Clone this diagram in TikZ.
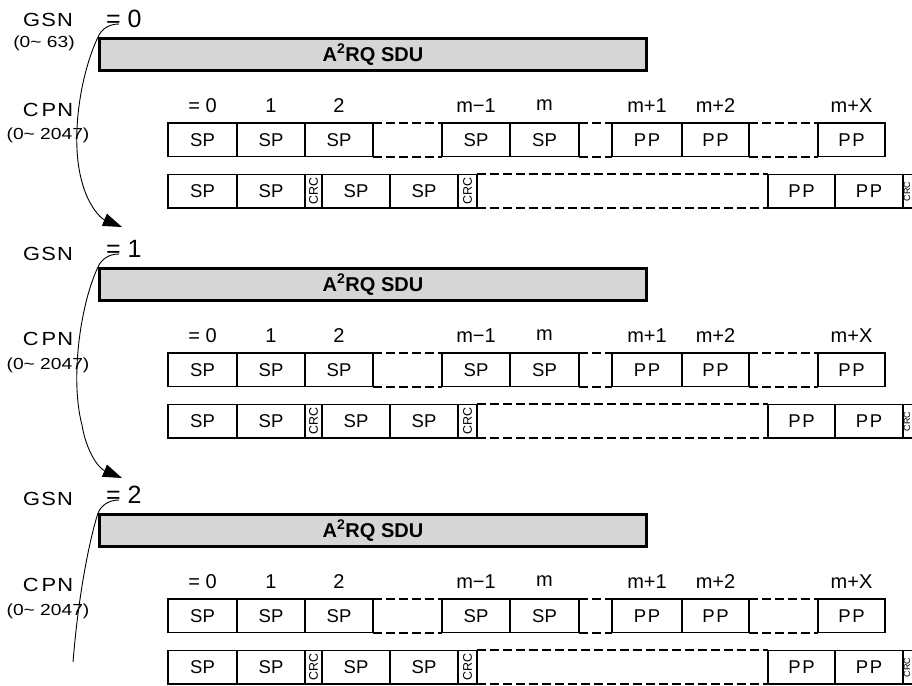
\documentclass[tikz,border=0pt]{standalone}
\usepackage{fontspec}
\setmainfont{Liberation Sans}
\newfontfamily\widefont[LetterSpace=6,FakeStretch=1.15]{Liberation Sans}
\newfontfamily\stretchfont[FakeStretch=1.2]{Liberation Sans}
\usetikzlibrary{arrows.meta}
\definecolor{sdugray}{gray}{0.84}
\tikzset{
  cellbox/.style={draw, line width=1.1pt, inner sep=0pt, font=\fontsize{18.5}{18.5}\selectfont},
  crcbox/.style={draw, line width=1.1pt, inner sep=0pt, rotate=90, font=\fontsize{12.5}{12.5}\selectfont},
  crctext/.style={inner sep=0pt, rotate=90, font=\fontsize{9}{9}\selectfont},
  gapbox/.style={inner sep=0pt},
  gapline/.style={line width=2pt, dash pattern=on 9pt off 4pt},
  gapside/.style={line width=2pt},
  sdubar/.style={draw, line width=3pt, fill=sdugray, inner sep=0pt, font=\bfseries\fontsize{20}{20}\selectfont},
  idxlabel/.style={font=\fontsize{20}{20}\selectfont, inner sep=0pt},
  bigeq/.style={font=\fontsize{25}{25}\selectfont, inner sep=0pt, anchor=west},
  sidelabel/.style={font=\widefont\fontsize{19}{19}\selectfont, inner sep=0pt},
  rangelabel/.style={font=\stretchfont\fontsize{16}{16}\selectfont, inner sep=0pt},
  seqcurve/.style={line width=0.9pt},
  seqarrow/.style={seqcurve, -{Triangle[length=19pt,width=13pt]}},
}
\newcommand\pp{P\kern1.5pt P}
\newcommand\mkcell[7]{% style, name, x1, x2, y1, y2, text
  \node[#1, minimum width={(#4)-(#3)}, minimum height={(#6)-(#5)}] (#2) at ({((#3)+(#4))/2},{((#5)+(#6))/2}) {#7};}
\newcommand\mkcrc[5]{% name, x1, x2, y1, y2
  \node[crcbox, minimum width={(#5)-(#4)}, minimum height={(#3)-(#2)}] (#1) at ({((#2)+(#3))/2},{((#4)+(#5))/2}) {CRC};}
\newcommand\mkgap[5]{% name, x1, x2, y1, y2
  \node[gapbox, minimum width={(#3)-(#2)}, minimum height={(#5)-(#4)}] (#1) at ({((#2)+(#3))/2},{((#4)+(#5))/2}) {};
  \draw[gapline] (#1.north west) -- (#1.north east) (#1.south west) -- (#1.south east);
  \draw[gapside] (#1.north west) -- (#1.south west) (#1.north east) -- (#1.south east);}
\begin{document}
\begin{tikzpicture}[x=1pt,y=-1pt]
\useasboundingbox (0,0) rectangle (912,685);
\fill[white] (0,0) rectangle (912,685);
\clip (0,0) rectangle (912,685);
\foreach \b/\T in {1/37,2/267,3/513}{
  \pgfmathsetmacro\ra{\T+86}\pgfmathsetmacro\rb{\T+119.5}
  \pgfmathsetmacro\rc{\T+137.5}\pgfmathsetmacro\rd{\T+171}
  \node[sdubar, minimum width=547pt, minimum height=32pt] (sdu\b) at (373,{\T+17.5}) {A\textsuperscript{2}RQ SDU};
  % row 1
  \mkcell{cellbox}{a\b}{168}{237}{\ra}{\rb}{SP}
  \mkcell{cellbox}{b\b}{237}{305}{\ra}{\rb}{SP}
  \mkcell{cellbox}{c\b}{305}{373}{\ra}{\rb}{SP}
  \mkcell{cellbox}{e\b}{442}{510}{\ra}{\rb}{SP}
  \mkcell{cellbox}{f\b}{510}{579}{\ra}{\rb}{SP}
  \mkcell{cellbox}{h\b}{612}{682}{\ra}{\rb}{\pp}
  \mkcell{cellbox}{i\b}{682}{749}{\ra}{\rb}{\pp}
  \mkcell{cellbox}{k\b}{818}{885}{\ra}{\rb}{\pp}
  \mkgap{d\b}{373}{442}{\ra}{\rb}
  \mkgap{g\b}{579}{612}{\ra}{\rb}
  \mkgap{j\b}{749}{818}{\ra}{\rb}
  \node[idxlabel] at ([yshift=17pt]a\b.north) {= 0};
  \node[idxlabel] at ([yshift=17pt]b\b.north) {1};
  \node[idxlabel] at ([yshift=17pt]c\b.north) {2};
  \node[idxlabel] at ([yshift=17pt]e\b.north) {m−1};
  \node[idxlabel] at ([yshift=17pt]f\b.north) {m};
  \node[idxlabel] at ([yshift=17pt]h\b.north) {m+1};
  \node[idxlabel] at ([yshift=17pt]i\b.north) {m+2};
  \node[idxlabel] at ([yshift=17pt]k\b.north) {m+X};
  % row 2
  \mkcell{cellbox}{p\b}{168}{237}{\rc}{\rd}{SP}
  \mkcell{cellbox}{q\b}{237}{305}{\rc}{\rd}{SP}
  \mkcrc{r\b}{305}{322}{\rc}{\rd}
  \mkcell{cellbox}{s\b}{322}{390}{\rc}{\rd}{SP}
  \mkcell{cellbox}{t\b}{390}{458}{\rc}{\rd}{SP}
  \mkcrc{u\b}{458}{477}{\rc}{\rd}
  \mkcell{cellbox}{w\b}{768}{835}{\rc}{\rd}{\pp}
  \mkcell{cellbox}{x\b}{835}{903}{\rc}{\rd}{\pp}
  \mkcell{cellbox}{z\b}{903}{921}{\rc}{\rd}{}
  \node[crctext] (zt\b) at ([xshift=3.5pt]x\b.east) {CRC};
  \mkgap{v\b}{477}{768}{\rc}{\rd}
}
% left-hand labels
\node[sidelabel] (gsn1) at (48,20) {GSN};
\node[rangelabel] (gr1) at (44,43) {(0\textasciitilde\ 63)};
\node[bigeq] (eq1) at (106,19) {= 0};
\node[sidelabel] (cpn1) at (48,110) {C\kern3pt PN};
\node[rangelabel] (cr1) at (48,135) {(0\textasciitilde\ 2047)};
\node[sidelabel] (gsn2) at (48,254) {GSN};
\node[bigeq] (eq2) at (106,249) {= 1};
\node[sidelabel] (cpn2) at (48,339) {C\kern3pt PN};
\node[rangelabel] (cr2) at (48,365) {(0\textasciitilde\ 2047)};
\node[sidelabel] (gsn3) at (48,499) {GSN};
\node[bigeq] (eq3) at (106,495) {= 2};
\node[sidelabel] (cpn3) at (48,585) {C\kern3pt PN};
\node[rangelabel] (cr3) at (48,611) {(0\textasciitilde\ 2047)};
% sequence curves
\coordinate (h1) at (119,24);
\coordinate (tip1) at (122,227);
\coordinate (h2) at (119,254);
\coordinate (tip2) at (122,478);
\coordinate (h3) at (119,500);
\coordinate (end3) at (73,662);
\draw[seqarrow] (h1) .. controls (108,24) and (101,30) .. (sdu1.north west)
  .. controls (80,75) and (70,140) .. (82,182)
  .. controls (88,205) and (100,218) .. (tip1);
\draw[seqarrow] (h2) .. controls (108,254) and (101,260) .. (sdu2.north west)
  .. controls (80,305) and (70,380) .. (82,425)
  .. controls (86,450) and (98,468) .. (tip2);
\draw[seqcurve] (h3) .. controls (108,500) and (101,506) .. (sdu3.north west)
  .. controls (88,545) and (78,600) .. (end3);
\end{tikzpicture}
\end{document}
